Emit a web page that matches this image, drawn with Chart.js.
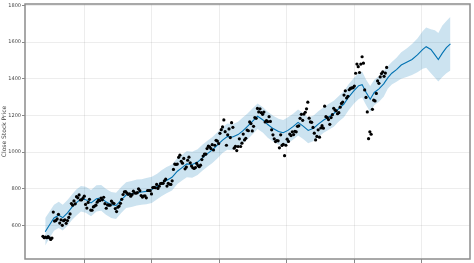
<!DOCTYPE html>
<html>
<head>
<meta charset="utf-8">
<script src="https://cdn.jsdelivr.net/npm/chart.js@4"></script>
<style>
  html, body { margin: 0; padding: 0; background: #fff; overflow: hidden; }
  #wrap { width: 474px; height: 263px; }
</style>
</head>
<body>
<div id="wrap"><canvas id="forecast-chart"></canvas></div>
<script>
// weekly closes, first week starts 2015-05-22
const firstWeek = 2015.386;
const close2015 = [540, 532, 536, 532, 538, 532, 523, 530, 672, 623, 626, 635, 660, 612, 630, 600,
    625, 630, 611, 626, 643, 662, 719, 710, 733, 717, 756, 750, 766, 738, 739, 748];
const close2016 = [759, 714, 694, 725, 742, 683, 682, 700, 705, 710, 726, 737, 735, 749, 739, 753,
    718, 693, 711, 710, 710, 732, 722, 719, 691, 675, 699, 705, 720, 742, 768, 782, 784, 776, 769,
    771, 759, 768, 786, 777, 775, 778, 799, 789, 762, 754, 760, 761, 750, 790, 790, 789, 771];
const close2017 = [806, 807, 805, 823, 801, 813, 828, 829, 829, 843, 852, 814, 829, 824, 823, 843,
    905, 934, 932, 934, 971, 983, 949, 939, 965, 908, 918, 955, 972, 941, 923, 914, 910, 915, 938,
    926, 920, 928, 959, 978, 989, 988, 1019, 1032, 1028, 1019, 1040, 1011, 1037, 1064, 1060, 1046];
const close2018 = [1102, 1122, 1137, 1175, 1111, 1037, 1094, 1126, 1079, 1160, 1135, 1021, 1031,
    1008, 1030, 1072, 1030, 1048, 1098, 1066, 1075, 1120, 1116, 1164, 1155, 1115, 1140, 1188, 1184,
    1238, 1219, 1236, 1215, 1206, 1218, 1164, 1172, 1166, 1193, 1167, 1121, 1094, 1072, 1057, 1063,
    1061, 1023, 1094, 1036, 1042, 980, 1037];
const close2019 = [1070, 1058, 1098, 1090, 1110, 1095, 1113, 1110, 1140, 1143, 1184, 1206, 1173,
    1207, 1217, 1236, 1272, 1185, 1164, 1162, 1134, 1103, 1066, 1085, 1121, 1081, 1131, 1144, 1130,
    1250, 1193, 1188, 1177, 1151, 1188, 1204, 1239, 1229, 1225, 1209, 1215, 1245, 1265, 1273, 1311,
    1334, 1295, 1304, 1340, 1347, 1350, 1351];
const close2020 = [1360, 1430, 1480, 1466, 1434, 1480, 1520, 1485, 1339, 1298, 1219, 1073, 1110,
    1097, 1233, 1283, 1279, 1320, 1388, 1375, 1410, 1428, 1438, 1413, 1431, 1462];

// fitted model + forecast
const fcYear = [2015.42, 2015.48, 2015.55, 2015.62, 2015.68, 2015.75, 2015.82, 2015.88, 2015.95,
    2016.02, 2016.10, 2016.18, 2016.25, 2016.32, 2016.40, 2016.47, 2016.55, 2016.62, 2016.70, 2016.78,
    2016.85, 2016.92, 2017.00, 2017.08, 2017.15, 2017.22, 2017.30, 2017.38, 2017.45, 2017.52, 2017.60,
    2017.68, 2017.75, 2017.82, 2017.90, 2017.98, 2018.05, 2018.12, 2018.20, 2018.28, 2018.35, 2018.42,
    2018.50, 2018.57, 2018.65, 2018.72, 2018.80, 2018.88, 2018.95, 2019.02, 2019.10, 2019.17, 2019.25,
    2019.32, 2019.40, 2019.47, 2019.55, 2019.62, 2019.70, 2019.77, 2019.85, 2019.92, 2020.00, 2020.07,
    2020.12, 2020.18, 2020.24, 2020.30, 2020.37, 2020.44, 2020.50, 2020.56, 2020.63, 2020.70, 2020.78,
    2020.86, 2020.94, 2021.02, 2021.07, 2021.14, 2021.20, 2021.25, 2021.31, 2021.37, 2021.43];
const yhat = [565, 600, 640, 655, 642, 668, 700, 722, 745, 740, 722, 745, 750, 728, 712, 708, 740,
    765, 772, 778, 782, 785, 795, 812, 832, 845, 862, 895, 915, 935, 932, 945, 968, 990, 1012, 1040,
    1065, 1085, 1082, 1095, 1115, 1140, 1170, 1195, 1175, 1150, 1128, 1112, 1105, 1118, 1140, 1162,
    1140, 1118, 1130, 1152, 1175, 1190, 1210, 1235, 1262, 1300, 1335, 1362, 1368, 1325, 1288, 1325,
    1345, 1372, 1405, 1430, 1450, 1475, 1490, 1505, 1530, 1560, 1575, 1560, 1530, 1505, 1540, 1570, 1590];
const yhatLower = [490, 528, 570, 585, 572, 598, 630, 652, 675, 668, 650, 675, 680, 658, 640, 635,
    668, 695, 700, 708, 712, 715, 722, 742, 760, 775, 790, 825, 845, 862, 860, 875, 898, 918, 940, 968,
    995, 1012, 1010, 1025, 1045, 1068, 1098, 1125, 1105, 1078, 1058, 1040, 1035, 1048, 1068, 1090,
    1070, 1048, 1060, 1080, 1105, 1120, 1138, 1165, 1190, 1228, 1265, 1290, 1298, 1255, 1218, 1255,
    1275, 1302, 1345, 1368, 1383, 1400, 1410, 1420, 1435, 1455, 1460, 1430, 1405, 1385, 1410, 1430, 1445];
const yhatUpper = [640, 672, 712, 728, 712, 738, 770, 795, 815, 810, 792, 818, 820, 800, 782, 778,
    810, 835, 842, 850, 852, 858, 865, 882, 902, 918, 932, 968, 985, 1005, 1002, 1015, 1040, 1060, 1082,
    1110, 1135, 1155, 1152, 1165, 1188, 1210, 1240, 1265, 1245, 1220, 1198, 1182, 1175, 1190, 1210,
    1232, 1212, 1188, 1200, 1222, 1245, 1262, 1280, 1305, 1332, 1370, 1405, 1432, 1440, 1395, 1360,
    1395, 1415, 1442, 1468, 1492, 1515, 1545, 1565, 1590, 1620, 1660, 1680, 1670, 1665, 1650, 1690,
    1715, 1738];

const yTicks = [600, 800, 1000, 1200, 1400, 1600, 1800];
const xTicks = [2016, 2017, 2018, 2019, 2020, 2021];

const closes = [].concat(close2015, close2016, close2017, close2018, close2019, close2020);
const actualPoints = closes.map((v, i) => ({ x: firstWeek + i * 7 / 365.25, y: v }));
const pairs = arr => fcYear.map((x, i) => ({ x: x, y: arr[i] }));

const framePlugin = {
    id: 'frame',
    afterDraw(chart) {
        const { ctx, chartArea: a } = chart;
        ctx.save();
        ctx.strokeStyle = '#8c8c8c';
        ctx.lineWidth = 1.5;
        ctx.strokeRect(a.left, a.top, a.right - a.left, a.bottom - a.top);
        ctx.restore();
    }
};

const ctx = document.getElementById("forecast-chart").getContext("2d");

new Chart(ctx, {
    type: 'scatter',
    data: {
        datasets: [{
            label: 'Actual',
            data: actualPoints,
            backgroundColor: '#000',
            borderWidth: 0,
            pointRadius: 1.6,
            showLine: false
        }, {
            label: 'yhat',
            data: pairs(yhat),
            showLine: true,
            borderColor: '#0072B2',
            borderWidth: 1.1,
            pointRadius: 0,
            fill: false
        }, {
            label: 'upper',
            data: pairs(yhatUpper),
            showLine: true,
            borderWidth: 0,
            borderColor: 'rgba(0,0,0,0)',
            pointRadius: 0,
            backgroundColor: 'rgba(0, 114, 178, 0.2)',
            fill: '+1'
        }, {
            label: 'lower',
            data: pairs(yhatLower),
            showLine: true,
            borderWidth: 0,
            borderColor: 'rgba(0,0,0,0)',
            pointRadius: 0,
            fill: false
        }]
    },
    options: {
        responsive: true,
        maintainAspectRatio: false,
        animation: false,
        layout: { padding: { top: 1, right: 4, left: 0, bottom: 0 } },
        plugins: {
            legend: { display: false },
            tooltip: { enabled: false }
        },
        scales: {
            x: {
                type: 'linear',
                min: 2015.12,
                max: 2021.72,
                afterBuildTicks: scale => { scale.ticks = xTicks.map(v => ({ value: v })); },
                afterFit: scale => { scale.height = 4; },
                ticks: { display: false },
                grid: { color: 'rgba(0,0,0,0.07)', tickColor: '#888', tickLength: 4 },
                border: { display: false }
            },
            y: {
                min: 416,
                max: 1808,
                afterBuildTicks: scale => { scale.ticks = yTicks.map(v => ({ value: v })); },
                afterFit: scale => { scale.width = 25; },
                ticks: {
                    color: '#444',
                    font: { family: 'DejaVu Sans', size: 5 },
                    padding: 1,
                    callback: v => String(v)
                },
                grid: { color: 'rgba(0,0,0,0.07)', tickColor: '#888', tickLength: 3 },
                border: { display: false },
                title: {
                    display: true,
                    text: 'Close Stock Price',
                    color: '#444',
                    font: { family: 'DejaVu Sans', size: 6 },
                    padding: { top: 1, bottom: 0 }
                }
            }
        }
    },
    plugins: [framePlugin]
});
</script>
</body>
</html>
